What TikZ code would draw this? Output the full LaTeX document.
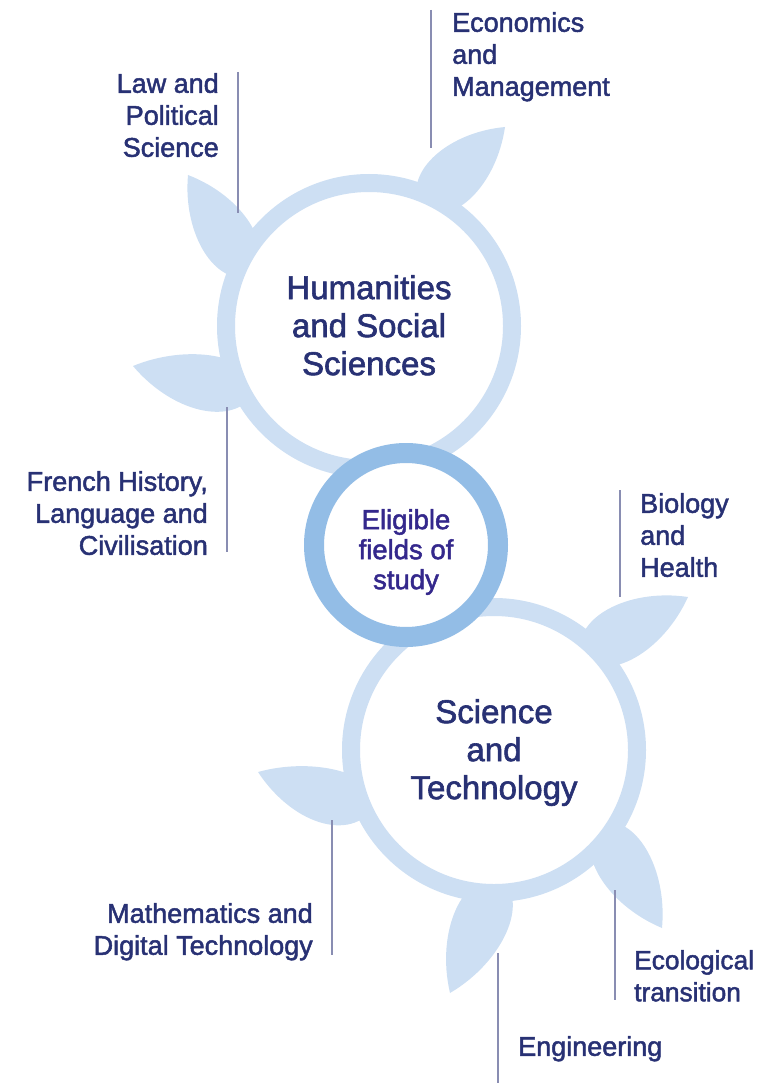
\documentclass[tikz,border=0pt]{standalone}
\usepackage{fontspec}
\usetikzlibrary{calc}
\newfontfamily\lblfont{Liberation Sans}[FakeBold=1.8]
\definecolor{ringlight}{RGB}{205,223,243}
\definecolor{ringmid}{RGB}{147,189,230}
\definecolor{navy}{RGB}{40,49,116}
\definecolor{purp}{RGB}{52,40,140}
\definecolor{connline}{RGB}{137,141,178}
\newcommand\myleaf[4]{%
  \fill[ringlight] (#1) .. controls ($(#1)!0.08!(#2)!#3!90:(#2)$) and ($(#1)!0.6!(#2)!#3!90:(#2)$) .. (#2)
    .. controls ($(#1)!0.6!(#2)!#4!-90:(#2)$) and ($(#1)!0.08!(#2)!#4!-90:(#2)$) .. (#1) -- cycle;}
\begin{document}
\begin{tikzpicture}[x=1pt,y=-1pt,
  lbl/.style={font=\lblfont\fontsize{27}{32}\selectfont, text=navy, inner sep=0pt},
  big/.style={font=\lblfont\fontsize{33}{38}\selectfont, text=navy, inner sep=0pt, align=center},
  mid/.style={font=\lblfont\fontsize{27.5}{30}\selectfont, text=purp, inner sep=0pt, align=center},
  bigring/.style={draw=ringlight, line width=18pt, fill=white},
  midring/.style={draw=ringmid, line width=20pt, fill=white},
  conn/.style={draw=connline, line width=1.5pt}]
\useasboundingbox (0,0) rectangle (756,1083);
% leaf anchor points
\coordinate (b1) at (251,276); \coordinate (t1) at (188,175);
\coordinate (b2) at (257,388); \coordinate (t2) at (133,366);
\coordinate (b3) at (421,209); \coordinate (t3) at (505,127);
\coordinate (b4) at (581,657); \coordinate (t4) at (688,597);
\coordinate (b5) at (377,802); \coordinate (t5) at (258,772);
\coordinate (b6) at (501,878); \coordinate (t6) at (450,993);
\coordinate (b7) at (599,823); \coordinate (t7) at (662,928);
\myleaf{b1}{t1}{36pt}{36pt}
\myleaf{b2}{t2}{42pt}{32pt}
\myleaf{b3}{t3}{38pt}{36pt}
\myleaf{b4}{t4}{38pt}{36pt}
\myleaf{b5}{t5}{45pt}{28pt}
\myleaf{b6}{t6}{36pt}{38pt}
\myleaf{b7}{t7}{36pt}{36pt}
% circles
\draw[bigring] (369,326) circle[radius=143];
\draw[bigring] (494,750) circle[radius=143];
\draw[midring] (406,545) circle[radius=92];
% texts
\node[big, anchor=north] (hum) at (369,275) {Humanities\\and Social\\Sciences};
\node[big, anchor=north] (sci) at (494,699) {Science\\and\\Technology};
\node[mid, anchor=north] (elig) at (406,509) {Eligible\\fields of\\study};
\node[lbl, anchor=north east, align=right] (law) at (219,73) {Law and\\Political\\Science};
\node[lbl, anchor=north west, align=left] (econ) at (452,12) {Economics\\and\\Management};
\node[lbl, anchor=north east, align=right] (french) at (208,471) {French History,\\Language and\\Civilisation};
\node[lbl, anchor=north west, align=left] (bio) at (640,493) {Biology\\and\\Health};
\node[lbl, anchor=north east, align=right] (math) at (313,903) {Mathematics and\\Digital Technology};
\node[lbl, anchor=north west, align=left, font=\lblfont\fontsize{26.3}{32}\selectfont] (eco) at (634,950) {Ecological\\transition};
\node[lbl, anchor=north west] (eng) at (518,1036) {Engineering};
% connector lines
\coordinate (lawA) at (238,72);   \coordinate (lawB) at (238,213);
\coordinate (econA) at (431,10);  \coordinate (econB) at (431,148);
\coordinate (frA) at (227,407);   \coordinate (frB) at (227,552);
\coordinate (bioA) at (620,490);  \coordinate (bioB) at (620,597);
\coordinate (mathA) at (332,820); \coordinate (mathB) at (332,955);
\coordinate (engA) at (498,953);  \coordinate (engB) at (498,1083);
\coordinate (ecoA) at (615,890);  \coordinate (ecoB) at (615,1000);
\draw[conn] (lawA) -- (lawB);
\draw[conn] (econA) -- (econB);
\draw[conn] (frA) -- (frB);
\draw[conn] (bioA) -- (bioB);
\draw[conn] (mathA) -- (mathB);
\draw[conn] (engA) -- (engB);
\draw[conn] (ecoA) -- (ecoB);
\end{tikzpicture}
\end{document}
